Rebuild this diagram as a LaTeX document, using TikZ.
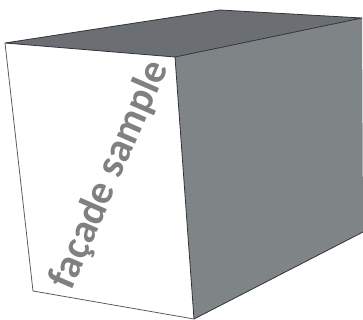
\documentclass[tikz,border=0pt]{standalone}
\usepackage{fontspec}
\setmainfont{Carlito}
\definecolor{topface}{RGB}{107,110,114}
\definecolor{sideface}{RGB}{127,132,135}
\definecolor{edgecol}{RGB}{50,52,55}
\definecolor{labelcol}{RGB}{128,128,128}
\tikzset{
  faceedge/.style={draw=edgecol,line width=0.8pt,line join=round},
  facelabel/.style={text=labelcol,font=\bfseries\fontsize{41}{48}\selectfont,inner sep=0pt,rotate=66.5}
}
\begin{document}
\begin{tikzpicture}[x=1pt,y=-1pt]
\useasboundingbox (0,0) rectangle (363,320);
\coordinate (a) at (5,43);
\coordinate (b) at (175,57);
\coordinate (c) at (194,319);
\coordinate (d) at (33,291);
\coordinate (t) at (220,10);
\coordinate (e) at (362,18);
\coordinate (f) at (363,232);
\fill[white] (a) -- (b) -- (c) -- (d) -- cycle;
\fill[topface] (a) -- (t) -- (e) -- (b) -- cycle;
\fill[sideface] (b) -- (e) -- (f) -- (c) -- cycle;
\draw[faceedge] (a) -- (b) -- (e) -- (t) -- cycle;
\draw[faceedge] (b) -- (c) -- (f);
\draw[faceedge,draw=edgecol!80!white] (c) -- (d) -- (a);
\node[facelabel] (lbl) at (110,175) {façade sample};
\end{tikzpicture}
\end{document}
